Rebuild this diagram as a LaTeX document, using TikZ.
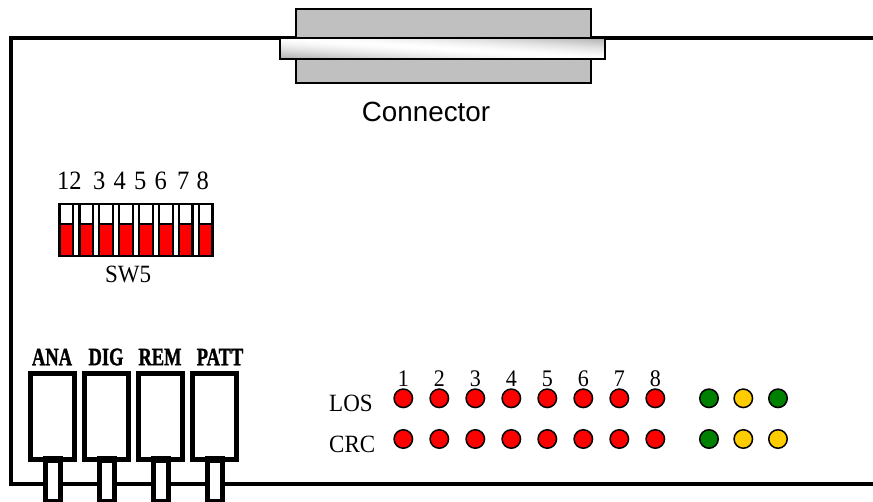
\documentclass[tikz,border=0pt]{standalone}
\usepackage{fontspec}
\setmainfont{Liberation Serif}
\newfontfamily\arialf{Liberation Sans}
\newfontfamily\keyf[BoldFeatures={FakeBold=1.5}]{Liberation Serif}
\definecolor{ledgreen}{RGB}{0,128,0}
\definecolor{ledyellow}{RGB}{255,204,0}
\definecolor{conngray}{RGB}{192,192,192}
\tikzset{
 board/.style={line width=4pt},
 led/.style={circle,draw=black,line width=1.5pt,minimum size=18.5pt,inner sep=0pt,fill=red},
 lbl/.style={inner sep=0pt,yscale=1.08,font=\fontsize{23}{23}\selectfont},
 toplbl/.style={inner sep=0pt,yscale=1.08,font=\fontsize{24.5}{25}\selectfont},
 keylbl/.style={inner sep=0pt,xscale=.74,font=\keyf\fontsize{25}{25}\selectfont\bfseries},
 keybody/.style={draw=black,line width=5pt,fill=white},
 dipbox/.style={draw=black,line width=2.3pt,fill=white},
 dipred/.style={draw=black,line width=2.3pt,fill=red},
}
\begin{document}
\begin{tikzpicture}[x=1pt,y=-1pt]
\useasboundingbox (0,0) rectangle (873,502);
\draw[board] (873,38) -- (11.3,38) -- (11.3,484) -- (873,484);
% connector
\node[draw=black,line width=1.5pt,fill=conngray,minimum width=295pt,minimum height=74pt,inner sep=0pt] (conn) at (443.5,46) {};
\begin{scope}
\clip (280,38.5) rectangle (605,59.5);
\foreach \u in {-100,-96,...,100}{
 \pgfmathsetmacro\a{abs(\u)/100}
 \pgfmathsetmacro\p{32*\a*sqrt(\a)}
 \pgfmathsetmacro\xt{280+3.25*\u}
 \pgfmathsetmacro\xb{\xt+325}
 \fill[black!\p!white] (\xt,38.5) -- (\xb,59.5) -- (1300,59.5) -- (1300,38.5) -- cycle;
}
\end{scope}
\draw[black,line width=2pt] (280,38.5) rectangle (605,59.5);
\node[inner sep=0pt,font=\arialf\fontsize{27.8}{28}\selectfont] (conntxt) at (426,112) {Connector};
% dip
\foreach \i in {0,...,7}{
 \pgfmathsetmacro\xa{59.5+19.9*\i}
 \draw[dipbox] (\xa,204) rectangle (\xa+13.7,224);
 \draw[dipred] (\xa,224) rectangle (\xa+13.7,256);
}
\draw[black,line width=2.3pt] (58.4,204) -- (214.2,204) (58.4,256) -- (214.2,256);
\node[toplbl,anchor=base west] (d12) at (57,190) {12};
\foreach \t/\x in {3/93,4/113.5,5/134,6/154.5,7/177,8/196.5}{
 \node[toplbl,anchor=base west] (d\t) at (\x,190) {\t};
}
\node[lbl,anchor=base] (sw) at (128,283) {SW5};
% keys
\foreach \n/\t/\x/\lx in {a/ANA/52.5/52,b/DIG/106.5/106,c/REM/160.5/160,d/PATT/214.5/220}{
 \node[keylbl] (t\n) at (\lx,357) {\t};
 \draw[keybody] (\x-22,373.7) rectangle (\x+22,459.5);
 \fill[black] (\x-10,455.5) rectangle (\x+10,503);
 \fill[white] (\x-5,463) rectangle (\x+5,499);
}
% leds
\foreach \i in {1,...,8}{
 \pgfmathsetmacro\xx{403.3+36*(\i-1)}
 \node[led] (los\i) at (\xx,398.3) {};
 \node[led] (crc\i) at (\xx,439) {};
 \node[lbl,anchor=base,font=\fontsize{22}{22}\selectfont] (n\i) at (\xx,387) {\i};
}
\node[led,fill=ledgreen] (g1) at (709,398.3) {};
\node[led,fill=ledyellow] (y1) at (743.3,398.3) {};
\node[led,fill=ledgreen] (g2) at (778,398.3) {};
\node[led,fill=ledgreen] (g3) at (709,439) {};
\node[led,fill=ledyellow] (y2) at (743.3,439) {};
\node[led,fill=ledyellow] (y3) at (778,439) {};
\node[lbl,anchor=base west] (los) at (329,412) {LOS};
\node[lbl,anchor=base west] (crc) at (329,452.7) {CRC};
\end{tikzpicture}
\end{document}
